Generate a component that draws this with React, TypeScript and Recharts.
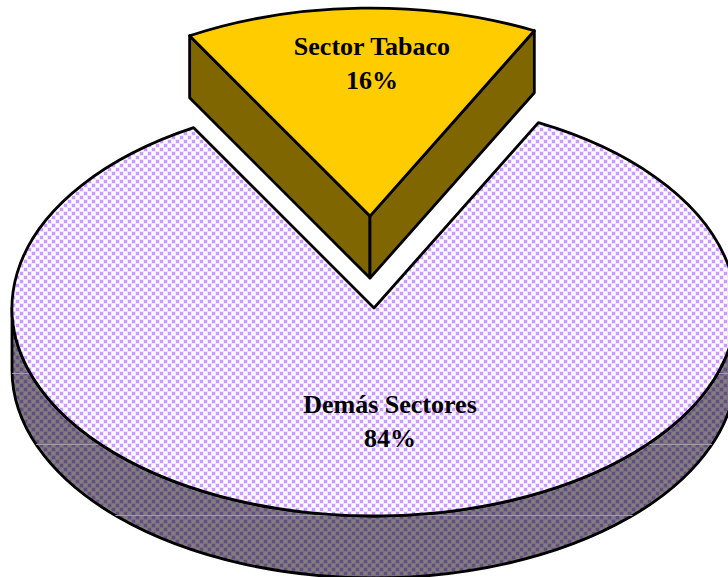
import { Pie, PieChart } from "recharts"

const sliceNames = ["Demás Sectores", "Sector Tabaco"]
const sliceValues = [84.2, 15.8]

const topFills = ["url(#checkTop)", "#ffcc00"]
const sideFills = ["url(#checkSide)", "#806600"]
const explode = [0, 160]
const labelSpots = [
  { x: 390, y: 413 },
  { x: 372, y: 55 },
]

const START_ANGLE = 63
const SQUASH = 208 / 362
const DEPTH = 62
const SEAMS = [373, 444, 515]

const data = sliceNames.map((name, i) => ({ name, value: sliceValues[i] }))

const rad = (deg: number) => (deg * Math.PI) / 180

function Slice3D(props: any) {
  const { cx, cy, startAngle, endAngle, outerRadius, midAngle, index } = props
  const rx = outerRadius
  const ry = outerRadius * SQUASH
  const ax = cx + explode[index] * Math.cos(rad(midAngle))
  const ay = cy - explode[index] * SQUASH * Math.sin(rad(midAngle))
  const sx = ax + rx * Math.cos(rad(startAngle))
  const sy = ay - ry * Math.sin(rad(startAngle))
  const ex = ax + rx * Math.cos(rad(endAngle))
  const ey = ay - ry * Math.sin(rad(endAngle))
  const span = Math.abs(startAngle - endAngle)
  const top = `M${ax},${ay} L${sx},${sy} A${rx},${ry} 0 ${span > 180 ? 1 : 0} 1 ${ex},${ey} Z`
  const stroke = { stroke: "#000", strokeWidth: 2.8, strokeLinejoin: "round" as const }

  if (span > 180) {
    const rim = `M${ax - rx},${ay} A${rx},${ry} 0 0 0 ${ax + rx},${ay} L${ax + rx},${ay + DEPTH} A${rx},${ry} 0 0 1 ${ax - rx},${ay + DEPTH} Z`
    return (
      <g>
        <clipPath id="rimClip">
          <path d={rim} />
        </clipPath>
        <path d={rim} fill={sideFills[index]} {...stroke} />
        <g clipPath="url(#rimClip)">
          {SEAMS.map((y) => (
            <line key={y} x1={0} x2={728} y1={y} y2={y} stroke="#a0a0a0" strokeWidth={1} shapeRendering="crispEdges" />
          ))}
        </g>
        <path d={top} fill={topFills[index]} {...stroke} />
      </g>
    )
  }

  const wall = (x: number, y: number) =>
    `M${x},${y} L${ax},${ay} L${ax},${ay + DEPTH} L${x},${y + DEPTH} Z`
  return (
    <g>
      <path d={wall(sx, sy)} fill={sideFills[index]} {...stroke} />
      <path d={wall(ex, ey)} fill={sideFills[index]} {...stroke} />
      <path d={top} fill={topFills[index]} {...stroke} />
    </g>
  )
}

function SliceLabel(props: any) {
  const { index, name, value } = props
  const { x, y } = labelSpots[index]
  return (
    <text
      x={x}
      y={y}
      textAnchor="middle"
      fontFamily="'Liberation Serif', serif"
      fontWeight="bold"
      fontSize={26}
      fill="#000"
    >
      <tspan x={x}>{name}</tspan>
      <tspan x={x} dy={34}>{`${Math.round(value)}%`}</tspan>
    </text>
  )
}

function Check({ id, light, mid, dark }: { id: string; light: string; mid: string; dark: string }) {
  return (
    <pattern id={id} width={8} height={8} patternUnits="userSpaceOnUse">
      <rect width={8} height={8} fill={mid} />
      <rect x={0} y={0} width={3} height={3} fill={light} />
      <rect x={4} y={4} width={3} height={3} fill={light} />
      <rect x={4} y={0} width={3} height={3} fill={dark} />
      <rect x={0} y={4} width={3} height={3} fill={dark} />
    </pattern>
  )
}

export default function App() {
  return (
    <div style={{ position: "absolute", left: 0, top: 0, width: 728, height: 577, background: "#fff" }}>
      <PieChart width={728} height={577} margin={{ top: 0, right: 0, bottom: 0, left: 0 }}>
        <defs>
          <Check id="checkTop" light="#ffffff" mid="#f2e5ff" dark="#cc99ff" />
          <Check id="checkSide" light="#808080" mid="#78707f" dark="#664c80" />
        </defs>
        <Pie
          data={data}
          dataKey="value"
          nameKey="name"
          cx={374}
          cy={308}
          innerRadius={0}
          outerRadius={362}
          startAngle={START_ANGLE}
          endAngle={START_ANGLE - 360}
          shape={Slice3D}
          label={SliceLabel}
          labelLine={false}
          isAnimationActive={false}
        />
      </PieChart>
    </div>
  )
}
